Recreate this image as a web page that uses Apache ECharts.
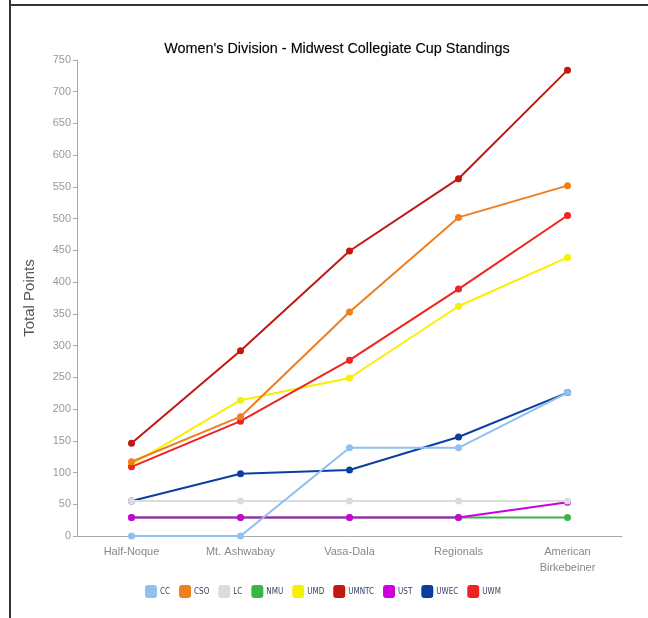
<!DOCTYPE html>
<html>
<head>
<meta charset="utf-8">
<script src="https://cdn.jsdelivr.net/npm/echarts@6/dist/echarts.min.js"></script>
<style>
html,body{margin:0;padding:0;background:#fff;}
#chart{width:648px;height:618px;}
</style>
</head>
<body>
<div id="chart"></div>
<script>
const categories = ['Half-Noque', 'Mt. Ashwabay', 'Vasa-Dala', 'Regionals', 'American\nBirkebeiner'];
const yTicks = [0, 50, 100, 150, 200, 250, 300, 350, 400, 450, 500, 550, 600, 650, 700, 750];

const CC    = [0, 0, 139, 139, 226];
const CSO   = [117, 188, 353, 502, 552];
const LC    = [55, 55, 55, 55, 55];
const NMU   = [29, 29, 29, 29, 29];
const UMD   = [113, 214, 249, 362, 439];
const UMNTC = [146, 292, 449, 563, 734];
const UST   = [29, 29, 29, 29, 53];
const UWEC  = [55, 98, 104, 156, 226];
const UWM   = [109, 181, 277, 389, 505];

const seriesDefs = [
  {name: 'CC', data: CC, color: '#8ec0f0', z: 9},
  {name: 'CSO', data: CSO, color: '#f07e1e', z: 6},
  {name: 'LC', data: LC, color: '#dcdcdc', z: 8},
  {name: 'NMU', data: NMU, color: '#3cb44b', z: 3},
  {name: 'UMD', data: UMD, color: '#f7f000', z: 5},
  {name: 'UMNTC', data: UMNTC, color: '#c0190f', z: 4},
  {name: 'UST', data: UST, color: '#cc00dd', z: 4},
  {name: 'UWEC', data: UWEC, color: '#0b3ea0', z: 3},
  {name: 'UWM', data: UWM, color: '#ee2424', z: 5}
];

const chart = echarts.init(document.getElementById('chart'), null, {renderer: 'canvas'});
chart.setOption({
  animation: false,
  backgroundColor: '#fff',
  title: {
    text: "Women's Division - Midwest Collegiate Cup Standings",
    left: 332, top: 37, textAlign: 'center',
    textStyle: {fontFamily: 'Liberation Sans, Arial, sans-serif', fontSize: 14.4, fontWeight: 'normal', color: '#000',
      textBorderColor: 'rgba(0,0,0,0.35)', textBorderWidth: 0.4}
  },
  graphic: [
    {type: 'line', shape: {x1: 10, y1: 0, x2: 10, y2: 618}, style: {stroke: '#333', lineWidth: 2}},
    {type: 'line', shape: {x1: 9, y1: 5, x2: 648, y2: 5}, style: {stroke: '#333', lineWidth: 2}}
  ],
  legend: {
    left: 140, top: 580,
    icon: 'roundRect',
    itemWidth: 12, itemHeight: 13, itemGap: 9,
    textStyle: {fontFamily: 'DejaVu Sans Condensed, DejaVu Sans, sans-serif', fontSize: 8, color: '#334466', padding: [0, 0, 0, -2]},
    data: seriesDefs.map(s => s.name)
  },
  grid: {left: 77, right: 26, top: 60, bottom: 82},
  xAxis: {
    type: 'category',
    data: categories,
    boundaryGap: true,
    axisLine: {lineStyle: {color: '#aaa', width: 1}},
    axisTick: {alignWithLabel: true, length: 4, lineStyle: {color: '#aaa'}},
    axisLabel: {color: '#888', fontSize: 11, fontFamily: 'Liberation Sans, Arial, sans-serif', margin: 8, lineHeight: 16}
  },
  yAxis: {
    type: 'value',
    min: 0, max: 750, interval: 50,
    name: 'Total Points',
    nameLocation: 'middle',
    nameGap: 40,
    nameTextStyle: {fontSize: 15, color: '#555', fontFamily: 'Liberation Sans, Arial, sans-serif'},
    axisLine: {show: true, lineStyle: {color: '#aaa'}},
    axisTick: {show: true, length: 4, lineStyle: {color: '#aaa'}},
    splitLine: {show: false},
    axisLabel: {color: '#999', fontSize: 11, fontFamily: 'Liberation Sans, Arial, sans-serif', margin: 6,
      formatter: v => yTicks.includes(v) ? String(v) : ''}
  },
  series: seriesDefs.map(s => ({
    name: s.name,
    type: 'line',
    data: s.data,
    z: s.z,
    color: s.color,
    symbol: 'circle',
    symbolSize: 7,
    lineStyle: {width: 2, color: s.color},
    itemStyle: {color: s.color},
    emphasis: {disabled: true}
  }))
});
</script>
</body>
</html>
